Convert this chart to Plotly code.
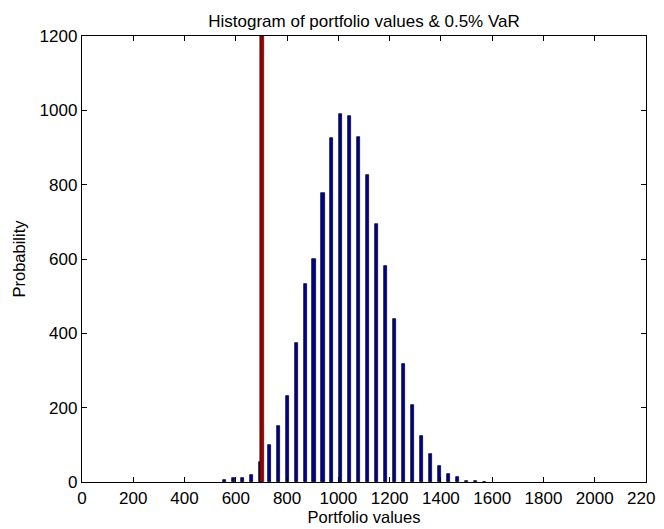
import plotly.graph_objects as go

# Histogram bin centres (portfolio values) and counts
bin_centers = [555, 590, 625, 660, 695, 730, 765, 800, 835, 870, 905, 940, 975, 1010,
               1045, 1080, 1115, 1150, 1185, 1220, 1255, 1290, 1325, 1360, 1395, 1430,
               1465, 1500, 1535, 1570]
counts = [6, 12, 10, 18, 53, 99, 151, 231, 375, 533, 600, 778, 925, 991,
          985, 928, 826, 695, 580, 438, 318, 207, 124, 75, 43, 22,
          14, 4, 2, 1]

# 0.5% VaR level
var_value = [702]
var_height = [1200]

x_ticks = list(range(0, 2201, 200))
y_ticks = list(range(0, 1201, 200))

FONT = "Liberation Sans, Arial"

fig = go.Figure()
fig.add_trace(go.Bar(
    x=bin_centers, y=counts, width=12,
    marker=dict(color="#000099", line=dict(color="black", width=0.7)),
    showlegend=False,
))
fig.add_trace(go.Bar(
    x=var_value, y=var_height, width=12,
    marker=dict(color="#990000", line=dict(color="black", width=0.5)),
    showlegend=False,
))

axis_common = dict(
    showline=True, linecolor="black", linewidth=1.3, mirror="allticks",
    ticks="inside", ticklen=5, tickcolor="black", tickwidth=1,
    showgrid=False, zeroline=False, automargin=False,
    ticklabeloverflow="allow",
    tickfont=dict(family=FONT, size=17, color="black"),
)

# page body adds an 8px offset; size/margins compensate so the plot sits where the reference has it
fig.update_layout(
    width=656, height=521,
    margin=dict(l=74, r=18, t=28, b=47),
    paper_bgcolor="white", plot_bgcolor="white",
    bargap=0, barmode="overlay",
    title=dict(text="Histogram of portfolio values & 0.5% VaR",
               x=0.5, xanchor="center", xref="paper", y=1 - 13 / 521, yanchor="middle",
               font=dict(family=FONT, size=17, color="black")),
    xaxis=dict(range=[0, 2200], tickvals=x_ticks,
               title=dict(text="Portfolio values", standoff=4,
                          font=dict(family=FONT, size=16.5, color="black")),
               **axis_common),
    yaxis=dict(range=[0, 1200], tickvals=y_ticks,
               title=dict(text="Probability", standoff=9,
                          font=dict(family=FONT, size=16.5, color="black")),
               **axis_common),
)

fig.write_html("out.html")
